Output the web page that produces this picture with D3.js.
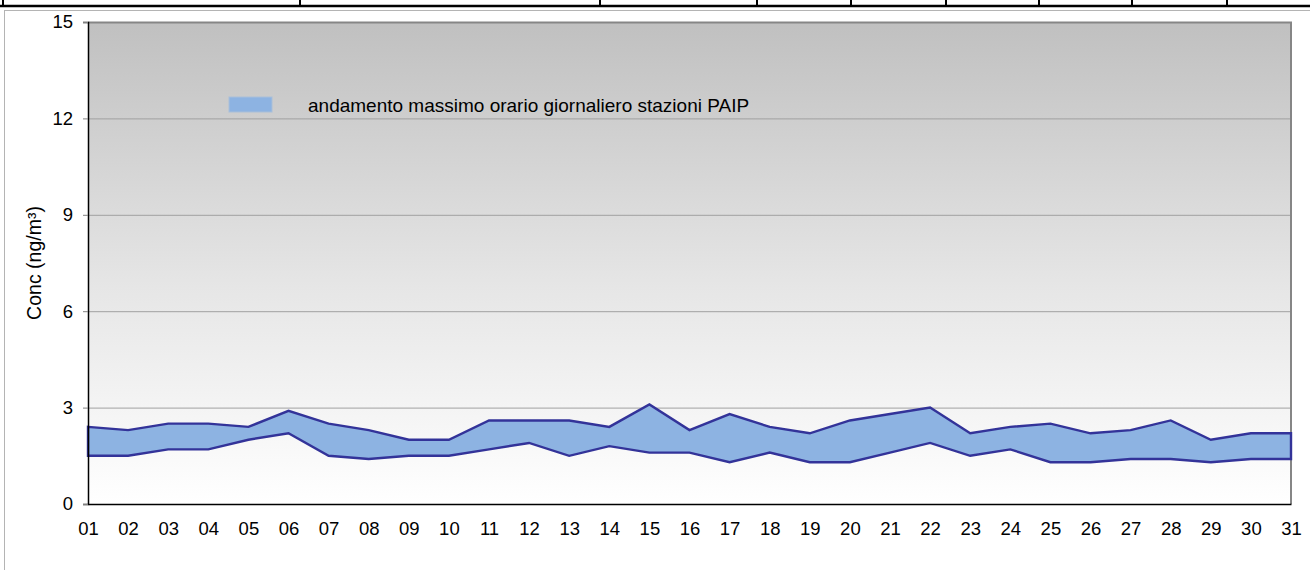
<!DOCTYPE html>
<html>
<head>
<meta charset="utf-8">
<script src="https://cdn.jsdelivr.net/npm/d3@7"></script>
<style>
  html, body { margin: 0; padding: 0; background: #fff; }
  svg { display: block; font-family: "Liberation Sans", Arial, sans-serif; }
</style>
</head>
<body>
<svg id="chart" width="1310" height="570"></svg>
<script>
// Days of the month and the daily band (min / max of the hourly maxima)
const days = ['01','02','03','04','05','06','07','08','09','10','11','12','13','14','15','16',
              '17','18','19','20','21','22','23','24','25','26','27','28','29','30','31'];
const bandMax = [2.4, 2.3, 2.5, 2.5, 2.4, 2.9, 2.5, 2.3, 2.0, 2.0, 2.6, 2.6, 2.6, 2.4, 3.1, 2.3,
                 2.8, 2.4, 2.2, 2.6, 2.8, 3.0, 2.2, 2.4, 2.5, 2.2, 2.3, 2.6, 2.0, 2.2, 2.2];
const bandMin = [1.5, 1.5, 1.7, 1.7, 2.0, 2.2, 1.5, 1.4, 1.5, 1.5, 1.7, 1.9, 1.5, 1.8, 1.6, 1.6,
                 1.3, 1.6, 1.3, 1.3, 1.6, 1.9, 1.5, 1.7, 1.3, 1.3, 1.4, 1.4, 1.3, 1.4, 1.4];
const yTicks = [0, 3, 6, 9, 12, 15];
const legendLabel = 'andamento massimo orario giornaliero stazioni PAIP';
const yTitle = 'Conc (ng/m³)';
// column dividers of the table row cut off above the chart
const tableCols = [3, 300, 600, 757, 851, 946, 1039, 1132, 1227];

const svg = d3.select('#chart');
const plot = { left: 88, right: 1291, top: 22, bottom: 504 };
const FONT = '"Liberation Sans", Arial, sans-serif';

const x = d3.scalePoint().domain(days).range([plot.left, plot.right]);
const y = d3.scaleLinear().domain([0, 15]).range([plot.bottom, plot.top]);

// table remnant at the very top
svg.append('line')
    .attr('x1', 0).attr('x2', 1310).attr('y1', 6).attr('y2', 6)
    .attr('stroke', '#000').attr('stroke-width', 2.5);
svg.selectAll('.tcol')
    .data(tableCols)
    .join('line')
    .attr('class', 'tcol')
    .attr('x1', d => d).attr('x2', d => d)
    .attr('y1', 0).attr('y2', 6)
    .attr('stroke', '#000').attr('stroke-width', 2);

// chart frame
svg.append('rect')
    .attr('x', 4.5).attr('y', 10.5)
    .attr('width', 1320).attr('height', 600)
    .attr('fill', '#fff').attr('stroke', '#b4b4b4');

// plot background gradient
const defs = svg.append('defs');
const grad = defs.append('linearGradient')
    .attr('id', 'bg').attr('x1', 0).attr('y1', 0).attr('x2', 0).attr('y2', 1);
grad.append('stop').attr('offset', '0%').attr('stop-color', '#c0c0c0');
grad.append('stop').attr('offset', '55%').attr('stop-color', '#e6e6e6');
grad.append('stop').attr('offset', '100%').attr('stop-color', '#ffffff');

svg.append('rect')
    .attr('x', plot.left).attr('y', plot.top)
    .attr('width', plot.right - plot.left).attr('height', plot.bottom - plot.top)
    .attr('fill', 'url(#bg)');

// gridlines
svg.append('g')
    .selectAll('line')
    .data(yTicks.filter(t => t > 0 && t < 15))
    .join('line')
    .attr('x1', plot.left).attr('x2', plot.right)
    .attr('y1', d => y(d) + 0.5).attr('y2', d => y(d) + 0.5)
    .attr('stroke', '#a0a0a0').attr('stroke-width', 1);

// plot border (top/right gray)
svg.append('path')
    .attr('d', `M${plot.left},${plot.top + 0.5}H${plot.right}V${plot.bottom}`)
    .attr('fill', 'none').attr('stroke', '#868686').attr('stroke-width', 2);

// band
const area = d3.area()
    .x((d, i) => x(days[i]))
    .y0((d, i) => y(bandMin[i]))
    .y1((d, i) => y(bandMax[i]));
const outline = days.map((d, i) => [x(d), y(bandMax[i])])
    .concat(days.map((d, i) => [x(d), y(bandMin[i])]).reverse());

svg.append('path')
    .datum(days)
    .attr('d', area)
    .attr('fill', '#8db3e2');
svg.append('path')
    .attr('d', d3.line()(outline) + 'Z')
    .attr('fill', 'none')
    .attr('stroke', '#333399')
    .attr('stroke-width', 2.4)
    .attr('stroke-linejoin', 'miter');

// axes
const yAxis = svg.append('g')
    .attr('transform', `translate(${plot.left},0)`)
    .call(d3.axisLeft(y).tickValues(yTicks).tickSize(5).tickPadding(10));
yAxis.select('.domain').attr('stroke', '#000').attr('stroke-width', 1.5);
yAxis.selectAll('.tick line').attr('stroke', '#808080');
yAxis.selectAll('text').attr('font-size', 18.5).attr('fill', '#000')
    .attr('font-family', FONT);

const xAxis = svg.append('g')
    .attr('transform', `translate(0,${plot.bottom})`)
    .call(d3.axisBottom(x).tickSize(0).tickPadding(17.5));
xAxis.select('.domain').attr('stroke', '#000').attr('stroke-width', 1.5);
xAxis.selectAll('text').attr('font-size', 18.5).attr('fill', '#000')
    .attr('font-family', FONT);

// y title
svg.append('text')
    .attr('transform', `translate(41,${(plot.top + plot.bottom) / 2}) rotate(-90)`)
    .attr('text-anchor', 'middle')
    .attr('font-size', 19.5)
    .text(yTitle);

// legend
svg.append('rect')
    .attr('x', 229).attr('y', 97)
    .attr('width', 43).attr('height', 15)
    .attr('fill', '#8db3e2')
    .attr('stroke', '#a9bfd9').attr('stroke-width', 1);
svg.append('text')
    .attr('x', 308).attr('y', 112)
    .attr('font-size', 19)
    .text(legendLabel);
</script>
</body>
</html>
